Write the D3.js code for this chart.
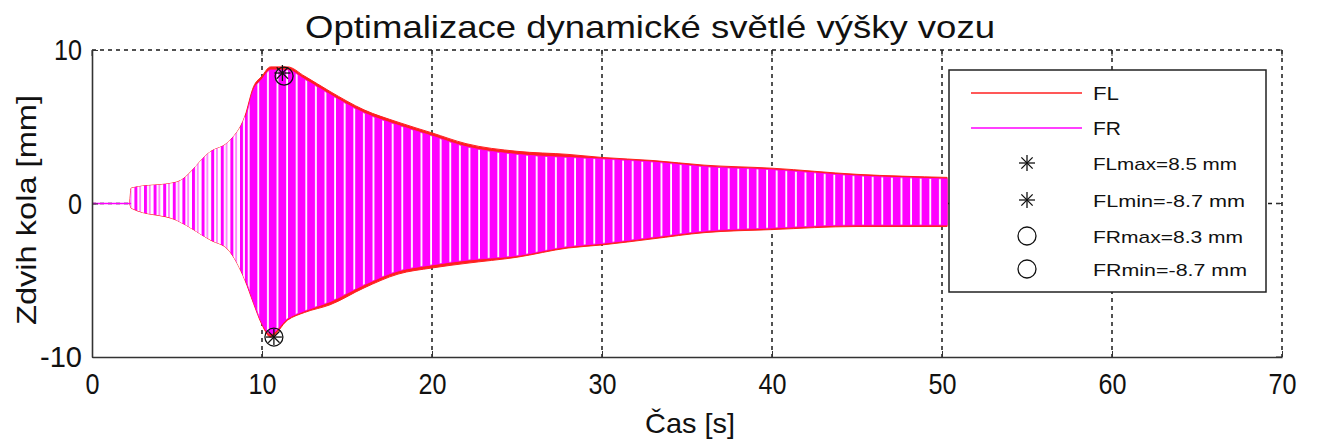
<!DOCTYPE html>
<html>
<head>
<meta charset="utf-8">
<script src="https://cdn.jsdelivr.net/npm/d3@7"></script>
<style>
  body { margin: 0; background: #fff; }
  text { font-family: "Liberation Sans", Arial, sans-serif; fill: #111; }
</style>
</head>
<body>
<svg id="chart" width="1317" height="443"></svg>
<script>
// envelope of the oscillation
const envTime  = [0, 2.2, 2.3, 5, 7, 8, 9, 9.5, 10, 10.5, 11.5, 12.5, 14, 16, 18, 20, 22, 25, 28, 30, 33, 36, 40, 45, 50.3]
const flUpper  = [0, 0, 1.0, 1.4, 3.4, 4.0, 5.7, 7.6, 8.3, 8.9, 8.9, 8.3, 7.3, 6.1, 5.3, 4.6, 3.9, 3.4, 3.2, 3.0, 2.8, 2.5, 2.3, 1.9, 1.7]
const flLower  = [0, 0, -0.3, -1.1, -2.4, -3.0, -5.0, -6.5, -7.9, -8.7, -7.6, -7.1, -6.6, -5.5, -4.6, -4.2, -3.9, -3.5, -2.9, -2.7, -2.3, -1.9, -1.7, -1.5, -1.5]
const frUpper  = [0, 0, 0.8, 1.2, 3.2, 3.8, 5.5, 7.4, 8.1, 8.7, 8.7, 8.1, 7.1, 5.9, 5.1, 4.4, 3.7, 3.2, 3.0, 2.9, 2.7, 2.4, 2.2, 1.8, 1.6]
const frLower  = [0, 0, -0.2, -1.0, -2.3, -2.9, -4.9, -6.4, -7.8, -8.5, -7.5, -7.0, -6.4, -5.3, -4.4, -4.0, -3.7, -3.4, -2.8, -2.6, -2.2, -1.8, -1.6, -1.4, -1.4]

const extrema = [
  { name: 'FLmax', t: 11.2, v: 8.5, marker: 'star' },
  { name: 'FLmin', t: 10.7, v: -8.7, marker: 'star' },
  { name: 'FRmax', t: 11.3, v: 8.3, marker: 'circle' },
  { name: 'FRmin', t: 10.7, v: -8.7, marker: 'circle' }
]
const legendLabels = ['FL', 'FR', 'FLmax=8.5 mm', 'FLmin=-8.7 mm', 'FRmax=8.3 mm', 'FRmin=-8.7 mm']
const xTicks = [0, 10, 20, 30, 40, 50, 60, 70]
const yTicks = [-10, 0, 10]

const svg = d3.select('#chart')
const pl = 92, pr = 1282, pt = 50, pb = 357

const x = d3.scaleLinear().domain([0, 70]).range([pl, pr])
const y = d3.scaleLinear().domain([-10, 10]).range([pb, pt])

// stripe patterns for the dense oscillation
const defs = svg.append('defs')
const dense = defs.append('pattern').attr('id', 'dense').attr('patternUnits', 'userSpaceOnUse')
    .attr('width', 9.6).attr('height', 10)
dense.append('rect').attr('width', 9.6).attr('height', 10).attr('fill', '#fff')
dense.append('rect').attr('width', 7.8).attr('height', 10).attr('fill', '#ff00ff')
const sparse = defs.append('pattern').attr('id', 'sparse').attr('patternUnits', 'userSpaceOnUse')
    .attr('width', 9.6).attr('height', 10)
sparse.append('rect').attr('width', 9.6).attr('height', 10).attr('fill', '#fff')
sparse.append('rect').attr('width', 3).attr('height', 10).attr('fill', '#ff00ff')
sparse.append('rect').attr('x', 5).attr('width', 1.5).attr('height', 10).attr('fill', '#ff66ff')

defs.append('clipPath').attr('id', 'early').append('rect')
    .attr('x', pl).attr('y', pt).attr('width', x(9) - pl).attr('height', pb - pt)
defs.append('clipPath').attr('id', 'late').append('rect')
    .attr('x', x(9)).attr('y', pt).attr('width', pr - x(9)).attr('height', pb - pt)

// grid
const grid = svg.append('g').attr('stroke', '#1a1a1a').attr('stroke-width', 1.5).attr('stroke-dasharray', '4,4')
grid.selectAll('line.gx').data(xTicks.slice(1, -1)).enter().append('line')
    .attr('x1', d => x(d)).attr('x2', d => x(d)).attr('y1', pt).attr('y2', pb)
grid.append('line').attr('x1', pl).attr('x2', pr).attr('y1', y(0)).attr('y2', y(0))
grid.append('line').attr('x1', pl).attr('x2', pr).attr('y1', pt).attr('y2', pt)
grid.append('line').attr('x1', pr).attr('x2', pr).attr('y1', pt).attr('y2', pb)

// signals
const flData = envTime.map((t, i) => ({ t, hi: flUpper[i], lo: flLower[i] }))
const frData = envTime.map((t, i) => ({ t, hi: frUpper[i], lo: frLower[i] }))
const area = d3.area().x(d => x(d.t)).y0(d => y(d.lo)).y1(d => y(d.hi)).curve(d3.curveMonotoneX)

svg.append('path').datum(flData).attr('d', area).attr('fill', '#ff2020').attr('stroke', '#ff2020').attr('stroke-width', 1)
svg.append('path').datum(flData).attr('d', area).attr('fill', 'url(#sparse)').attr('clip-path', 'url(#early)')
svg.append('path').datum(frData).attr('d', area).attr('fill', 'url(#dense)').attr('clip-path', 'url(#late)')
    .attr('stroke', '#ff00ff').attr('stroke-width', 0.8)
svg.append('line').attr('x1', x(0)).attr('x2', x(2.3)).attr('y1', y(0)).attr('y2', y(0))
    .attr('stroke', '#ff00ff').attr('stroke-width', 1.5)

// markers
function drawMarker(g, type, cx, cy) {
    if (type === 'star') {
        [0, 45, 90, 135].forEach(a => {
            const dx = 8 * Math.cos(a * Math.PI / 180), dy = 8 * Math.sin(a * Math.PI / 180)
            g.append('line').attr('x1', cx - dx).attr('y1', cy - dy).attr('x2', cx + dx).attr('y2', cy + dy)
                .attr('stroke', '#111').attr('stroke-width', 1.3)
        })
    } else {
        g.append('circle').attr('cx', cx).attr('cy', cy).attr('r', 9)
            .attr('fill', 'none').attr('stroke', '#111').attr('stroke-width', 1.3)
    }
}
const markG = svg.append('g')
extrema.forEach(d => drawMarker(markG, d.marker, x(d.t), y(d.v)))

// axes
const fmt = d => String(d)
const xAxis = svg.append('g').attr('transform', `translate(0,${pb})`)
    .call(d3.axisBottom(x).tickValues(xTicks).tickFormat(fmt).tickSize(-6).tickPadding(16).tickSizeOuter(0))
const yAxis = svg.append('g').attr('transform', `translate(${pl},0)`)
    .call(d3.axisLeft(y).tickValues(yTicks).tickFormat(fmt).tickSize(-6).tickPadding(10).tickSizeOuter(0))
;[xAxis, yAxis].forEach(a => {
    a.select('.domain').attr('stroke', '#333').attr('stroke-width', 1.6)
    a.selectAll('.tick line').attr('stroke', '#333')
    a.selectAll('.tick text').attr('font-size', 30).attr('fill', '#111')
        .style('font-family', '"Liberation Sans", Arial, sans-serif')
        .attr('textLength', d => String(d).length * 14)
        .attr('lengthAdjust', 'spacingAndGlyphs')
})
// right and top tick marks
svg.append('g').selectAll('line').data(yTicks).enter().append('line')
    .attr('x1', pr).attr('x2', pr - 6).attr('y1', d => y(d)).attr('y2', d => y(d)).attr('stroke', '#333')
svg.append('g').selectAll('line').data(xTicks).enter().append('line')
    .attr('x1', d => x(d)).attr('x2', d => x(d)).attr('y1', pt).attr('y2', pt + 6).attr('stroke', '#333')

// titles
svg.append('text').attr('x', 650).attr('y', 38).attr('text-anchor', 'middle')
    .attr('font-size', 32).attr('textLength', 690).attr('lengthAdjust', 'spacingAndGlyphs')
    .text('Optimalizace dynamické světlé výšky vozu')
svg.append('text').attr('x', 690).attr('y', 433).attr('text-anchor', 'middle')
    .attr('font-size', 28).attr('textLength', 90).attr('lengthAdjust', 'spacingAndGlyphs')
    .text('Čas [s]')
svg.append('text').attr('transform', 'translate(36,210) rotate(-90)').attr('text-anchor', 'middle')
    .attr('font-size', 27).attr('textLength', 230).attr('lengthAdjust', 'spacingAndGlyphs')
    .text('Zdvih kola [mm]')

// legend
const lg = svg.append('g')
lg.append('rect').attr('x', 949).attr('y', 70).attr('width', 317).attr('height', 222)
    .attr('fill', '#fff').attr('stroke', '#222').attr('stroke-width', 1.5)
const rowsY = [93, 128, 163, 200, 236, 269]
lg.append('line').attr('x1', 971).attr('x2', 1082).attr('y1', rowsY[0]).attr('y2', rowsY[0]).attr('stroke', '#ff2020').attr('stroke-width', 1.5)
lg.append('line').attr('x1', 971).attr('x2', 1082).attr('y1', rowsY[1]).attr('y2', rowsY[1]).attr('stroke', '#ff00ff').attr('stroke-width', 1.5)
extrema.forEach((d, i) => drawMarker(lg, d.marker, 1027, rowsY[i + 2]))
const labelWidths = [26, 28, 144, 152, 150, 154]
legendLabels.forEach((l, i) => {
    lg.append('text').attr('x', 1093).attr('y', rowsY[i] + 7).attr('font-size', i < 2 ? 19 : 17)
        .attr('textLength', labelWidths[i]).attr('lengthAdjust', 'spacingAndGlyphs').text(l)
})
</script>
</body>
</html>
